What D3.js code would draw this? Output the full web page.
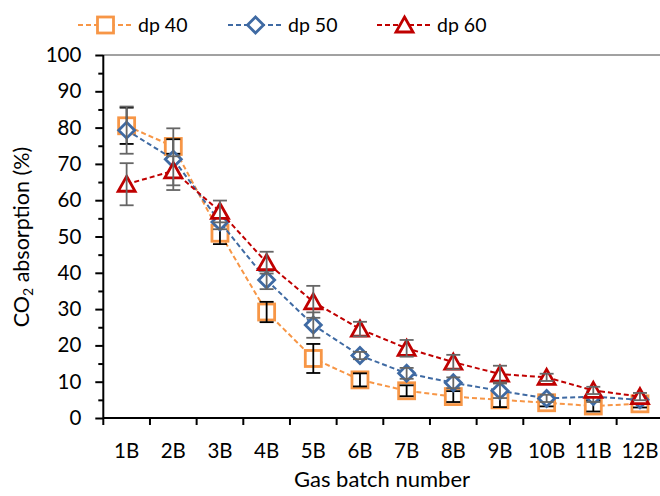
<!DOCTYPE html>
<html>
<head>
<meta charset="utf-8">
<script src="https://cdn.jsdelivr.net/npm/d3@7"></script>
<style>
  html, body { margin: 0; padding: 0; background: #fff; }
  svg { display: block; font-family: Lato, "Noto Sans", sans-serif; }
</style>
</head>
<body>
<svg id="chart" width="660" height="496"></svg>
<script>
const categories = ["1B","2B","3B","4B","5B","6B","7B","8B","9B","10B","11B","12B"];
const dp40 = [80.5, 74.8, 50.9, 29.2, 16.4, 10.5, 7.5, 5.9, 5.0, 4.2, 3.3, 3.9];
const dp50 = [79.3, 71.3, 54.0, 38.0, 25.6, 17.2, 12.3, 9.7, 7.5, 5.4, 5.9, 5.0];
const dp60 = [64.4, 68.1, 56.9, 42.8, 32.0, 24.5, 19.2, 15.4, 12.1, 11.2, 7.6, 5.9];
const err40 = [5.0, 2.0, 3.0, 2.8, 4.0, 1.8, 1.5, 1.5, 2.0, 1.0, 1.5, 1.0];
const err50 = [6.5, 8.5, 2.0, 2.5, 3.5, 1.0, 1.5, 1.5, 2.0, 1.0, 1.5, 1.0];
const err60 = [5.8, 4.0, 3.0, 3.0, 4.4, 2.0, 2.3, 2.0, 2.3, 1.0, 1.0, 1.0];
const seriesNames = ["dp 40", "dp 50", "dp 60"];
const yTicks = [0,10,20,30,40,50,60,70,80,90,100];
const yMinorTicks = [5,15,25,35,45,55,65,75,85,95];

const series = [
  {name: seriesNames[0], values: dp40, errs: err40, color: "#F79646", errColor: "#000000", shape: "square"},
  {name: seriesNames[1], values: dp50, errs: err50, color: "#3F6AA3", errColor: "#666666", shape: "diamond"},
  {name: seriesNames[2], values: dp60, errs: err60, color: "#C00000", errColor: "#666666", shape: "triangle"}
];

const svg = d3.select("#chart");
const pLeft = 103.3, pRight = 663.3, pTop = 55, pBottom = 418;

const x = d3.scaleBand().domain(categories).range([pLeft, pRight]).paddingInner(0).paddingOuter(0);
const y = d3.scaleLinear().domain([0, 100]).range([pBottom, pTop]);
const cx = c => x(c) + x.bandwidth() / 2;

// top border of plot area
svg.append("line").attr("x1", pLeft).attr("x2", pRight).attr("y1", pTop).attr("y2", pTop)
  .attr("stroke", "#444").attr("stroke-width", 1);

// Y axis major
const yAxis = d3.axisLeft(y).tickValues(yTicks).tickSize(8).tickPadding(14).tickFormat(d3.format("d"));
const gy = svg.append("g").attr("transform", `translate(${pLeft},0)`).call(yAxis);
gy.select(".domain").attr("stroke", "#000").attr("stroke-width", 2).attr("d", `M0,${pTop}V${pBottom}`);
gy.selectAll(".tick line").attr("stroke", "#000").attr("stroke-width", 2);
gy.selectAll(".tick text").attr("font-size", 20.5).attr("fill", "#000").attr("font-family", "Lato");
// Y axis minor
const yAxisMinor = d3.axisLeft(y).tickValues(yMinorTicks).tickSize(5).tickFormat("");
const gym = svg.append("g").attr("transform", `translate(${pLeft},0)`).call(yAxisMinor);
gym.select(".domain").remove();
gym.selectAll(".tick line").attr("stroke", "#000").attr("stroke-width", 2);

// X axis
const xAxis = d3.axisBottom(x).tickSize(0).tickPadding(25);
const gx = svg.append("g").attr("transform", `translate(0,${pBottom})`).call(xAxis);
gx.select(".domain").attr("stroke", "#000").attr("stroke-width", 2).attr("d", `M${pLeft},0H${pRight}`);
gx.selectAll(".tick text").attr("font-size", 20.5).attr("fill", "#000").attr("font-family", "Lato");
// x boundary ticks
const bounds = categories.map(c => x(c)).concat([x(categories[categories.length-1]) + x.bandwidth()]);
svg.append("g").selectAll("line").data(bounds).join("line")
  .attr("x1", d => d).attr("x2", d => d).attr("y1", pBottom).attr("y2", pBottom + 7)
  .attr("stroke", "#000").attr("stroke-width", 2);

// axis titles
svg.append("text").attr("x", 382).attr("y", 487)
  .attr("text-anchor", "middle").attr("font-size", 22).attr("fill", "#000")
  .text("Gas batch number");
const yt = svg.append("text").attr("transform", "translate(29,237) rotate(-90)")
  .attr("text-anchor", "middle").attr("font-size", 21.5).attr("fill", "#000");
yt.append("tspan").text("CO");
yt.append("tspan").attr("font-size", 14).attr("dy", 4).text("2");
yt.append("tspan").attr("dy", -4).text(" absorption (%)");

function drawMarker(g, shape, color, px, py) {
  if (shape === "square") {
    g.append("rect").attr("x", px - 8).attr("y", py - 8).attr("width", 16).attr("height", 16)
      .attr("fill", "#fff").attr("stroke", color).attr("stroke-width", 2.8);
  } else if (shape === "diamond") {
    g.append("path").attr("d", `M${px},${py-8}L${px+8},${py}L${px},${py+8}L${px-8},${py}Z`)
      .attr("fill", "#fff").attr("stroke", color).attr("stroke-width", 2.8);
  } else {
    g.append("path").attr("d", `M${px},${py-8}L${px+8.5},${py+7}L${px-8.5},${py+7}Z`)
      .attr("fill", "#fff").attr("stroke", color).attr("stroke-width", 2.8).attr("stroke-linejoin", "miter");
  }
}

const line = d3.line().x((d, i) => cx(categories[i])).y(d => y(d));

series.forEach(s => {
  const g = svg.append("g");
  g.append("path").datum(s.values).attr("d", line).attr("fill", "none")
    .attr("stroke", s.color).attr("stroke-width", 2).attr("stroke-dasharray", "5,3");
  s.values.forEach((v, i) => drawMarker(g, s.shape, s.color, cx(categories[i]), y(v)));
  s.values.forEach((v, i) => {
    const px = cx(categories[i]);
    const y1 = y(v + s.errs[i]), y2 = y(v - s.errs[i]);
    g.append("line").attr("x1", px).attr("x2", px).attr("y1", y1).attr("y2", y2)
      .attr("stroke", s.errColor).attr("stroke-width", 1.8);
    [y1, y2].forEach(yy => g.append("line").attr("x1", px - 7).attr("x2", px + 7).attr("y1", yy).attr("y2", yy)
      .attr("stroke", s.errColor).attr("stroke-width", 1.8));
  });
});

// legend
const legendX = [78, 228, 377];
series.forEach((s, i) => {
  const g = svg.append("g");
  const lx = legendX[i];
  g.append("line").attr("x1", lx).attr("x2", lx + 55).attr("y1", 25).attr("y2", 25)
    .attr("stroke", s.color).attr("stroke-width", 2).attr("stroke-dasharray", "5,3");
  drawMarker(g, s.shape, s.color, lx + 27.5, 25);
  g.append("text").attr("x", lx + 60).attr("y", 32).attr("font-size", 19.5).attr("fill", "#000").text(s.name);
});
</script>
</body>
</html>
